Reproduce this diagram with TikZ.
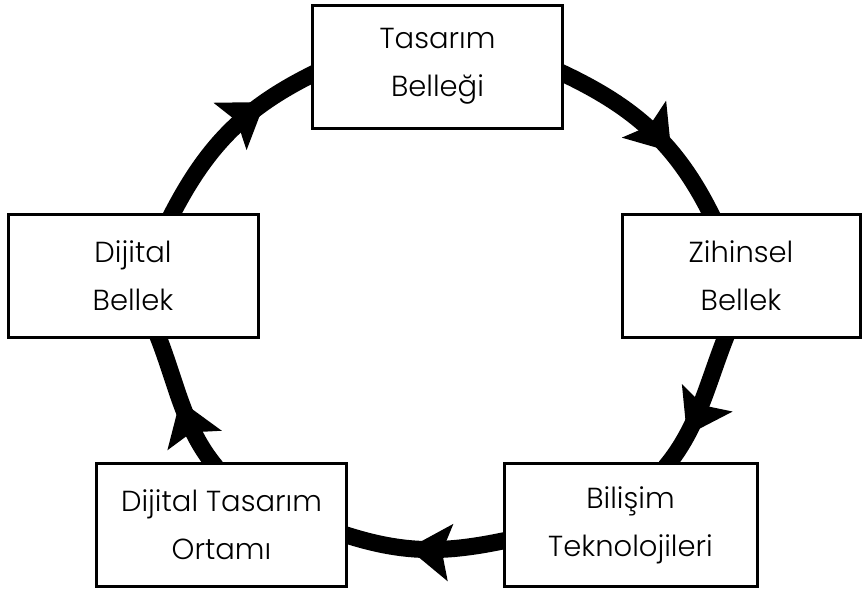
\documentclass[tikz,border=0pt]{standalone}
\usepackage{fontspec}
\setmainfont{Poppins}[UprightFont=* Light]
\usetikzlibrary{arrows.meta,decorations.markings,backgrounds}

\begin{document}
\begin{tikzpicture}[x=0.5pt,y=0.5pt,
  box/.style={draw,line width=1.5pt,fill=white,minimum width=125pt,minimum height=61.5pt,
    align=center,inner sep=0pt,font=\fontsize{14.5}{24}\selectfont},
  flow/.style={line width=8.5pt,
    decoration={markings,mark=at position #1 with {\arrow{Stealth[length=21pt 0 0,width=28pt 0 0,inset=4pt 0]}}},
    postaction={decorate}}]
\useasboundingbox (0,0) rectangle (862,-594);
\node[box] (tas) at (437.5,-66.5) {Tasarım\\Belleği};
\node[box,minimum width=119pt] (zih) at (741,-276) {Zihinsel\\Bellek};
\node[box,minimum width=126.5pt] (bil) at (630.5,-525) {Bilişim\\Teknolojileri};
\node[box] (dto) at (221.5,-525) {Dijital Tasarım\\Ortamı};
\node[box] (dbel) at (133,-276) {Dijital\\Bellek};
% cycle arcs, behind the boxes
\begin{scope}[on background layer]
\draw[flow=0.72] ([shift={(37,-5)}]dbel.north) to[out=63,in=206] ([shift={(5,-6)}]tas.west);
\draw[flow=0.64] ([shift={(-5,-5)}]tas.east) to[out=-25,in=116] ([shift={(-28,-5)}]zih.north);
\draw[flow=0.74] ([shift={(-14,5)}]zih.south) to[out=-112,in=50,looseness=0.9] ([shift={(35,-5)}]bil.north);
\draw[flow=0.6] ([shift={(5,-15)}]bil.west) to[out=192,in=-18] ([shift={(-5,-9)}]dto.east);
\draw[flow=0.52] ([shift={(-5.5,-5)}]dto.north) to[out=130,in=292,looseness=0.9] ([shift={(24,5)}]dbel.south);
\end{scope}
\end{tikzpicture}
\end{document}
